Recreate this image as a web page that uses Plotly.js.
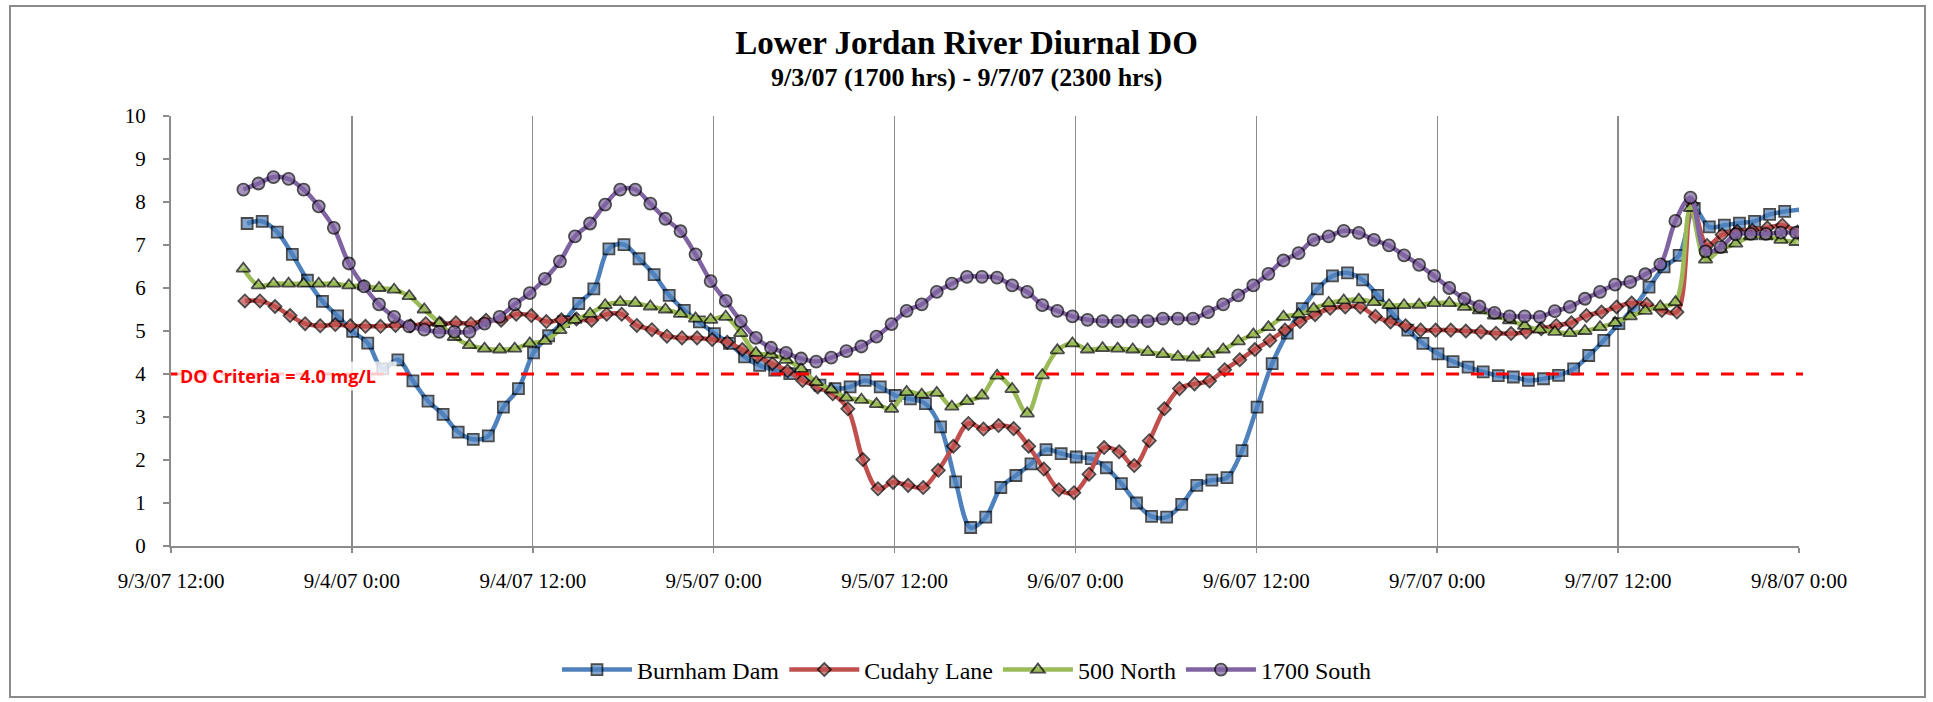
<!DOCTYPE html>
<html>
<head>
<meta charset="utf-8">
<script src="https://cdn.plot.ly/plotly-3.0.1.min.js"></script>
<style>
  html, body { margin: 0; padding: 0; background: #ffffff; }
  #chart { width: 1933px; height: 702px; }
</style>
</head>
<body>
<div id="chart"></div>
<script>
// ---------------- DATA (hourly readings) ----------------
const seriesNames = ["Burnham Dam", "Cudahy Lane", "500 North", "1700 South"];
const seriesStarts = ["2007-09-03 17:03", "2007-09-03 16:54", "2007-09-03 16:48", "2007-09-03 16:48"];

const burnhamDam = [
  7.50, 7.55, 7.30, 6.78, 6.18, 5.69, 5.35, 4.99, 4.72, 4.12,
  4.33, 3.84, 3.37, 3.06, 2.65, 2.48, 2.56, 3.23, 3.66, 4.49,
  4.89, 5.22, 5.64, 5.98, 6.91, 7.01, 6.68, 6.31, 5.83, 5.48,
  5.21, 4.94, 4.71, 4.40, 4.20, 4.09, 4.01, 3.97, 3.74, 3.66,
  3.70, 3.85, 3.70, 3.50, 3.42, 3.31, 2.77, 1.49, 0.43, 0.67,
  1.36, 1.64, 1.91, 2.24, 2.15, 2.07, 2.03, 1.82, 1.45, 1.00,
  0.69, 0.67, 0.97, 1.41, 1.53, 1.59, 2.22, 3.23, 4.24, 4.95,
  5.52, 5.98, 6.28, 6.35, 6.19, 5.83, 5.40, 5.02, 4.71, 4.47,
  4.29, 4.16, 4.05, 3.96, 3.93, 3.85, 3.89, 3.97, 4.12, 4.43,
  4.78, 5.17, 5.55, 6.02, 6.49, 6.76, 7.85, 7.42, 7.46, 7.51,
  7.55, 7.71, 7.78, 7.82
];
const cudahyLane = [
  5.70, 5.70, 5.57, 5.36, 5.17, 5.12, 5.15, 5.12, 5.11, 5.11,
  5.13, 5.12, 5.17, 5.16, 5.19, 5.17, 5.25, 5.25, 5.39, 5.36,
  5.22, 5.26, 5.28, 5.25, 5.39, 5.39, 5.13, 5.03, 4.88, 4.84,
  4.84, 4.80, 4.74, 4.57, 4.40, 4.24, 4.07, 3.85, 3.70, 3.54,
  3.19, 2.01, 1.33, 1.48, 1.41, 1.36, 1.76, 2.32, 2.85, 2.72,
  2.80, 2.73, 2.32, 1.79, 1.31, 1.24, 1.67, 2.29, 2.19, 1.87,
  2.45, 3.19, 3.66, 3.77, 3.84, 4.10, 4.33, 4.57, 4.78, 5.02,
  5.22, 5.38, 5.53, 5.56, 5.56, 5.34, 5.21, 5.12, 5.02, 5.02,
  5.02, 5.00, 4.98, 4.95, 4.94, 4.98, 5.05, 5.13, 5.19, 5.36,
  5.44, 5.56, 5.65, 5.62, 5.48, 5.44, 7.95, 6.99, 7.24, 7.32,
  7.34, 7.40, 7.46, 7.30
];
const north500 = [
  6.45, 6.06, 6.10, 6.10, 6.10, 6.10, 6.10, 6.06, 6.04, 6.00,
  5.96, 5.81, 5.50, 5.19, 4.86, 4.67, 4.59, 4.57, 4.59, 4.71,
  4.77, 5.02, 5.26, 5.40, 5.60, 5.67, 5.65, 5.57, 5.50, 5.40,
  5.29, 5.26, 5.33, 4.95, 4.49, 4.45, 4.33, 4.12, 3.81, 3.64,
  3.45, 3.40, 3.30, 3.19, 3.58, 3.52, 3.56, 3.24, 3.37, 3.50,
  3.96, 3.65, 3.08, 3.97, 4.55, 4.71, 4.57, 4.60, 4.59, 4.57,
  4.51, 4.46, 4.40, 4.38, 4.46, 4.57, 4.76, 4.92, 5.09, 5.33,
  5.39, 5.52, 5.65, 5.71, 5.73, 5.67, 5.60, 5.60, 5.61, 5.65,
  5.65, 5.56, 5.48, 5.36, 5.25, 5.12, 5.03, 4.98, 4.95, 5.00,
  5.09, 5.19, 5.34, 5.47, 5.57, 5.67, 7.86, 6.66, 6.90, 7.03,
  7.20, 7.20, 7.12, 7.07
];
const south1700 = [
  8.29, 8.43, 8.58, 8.54, 8.29, 7.90, 7.40, 6.57, 6.04, 5.62,
  5.33, 5.11, 5.03, 4.98, 4.98, 4.98, 5.17, 5.33, 5.62, 5.88,
  6.21, 6.62, 7.20, 7.50, 7.94, 8.29, 8.29, 7.96, 7.61, 7.32,
  6.78, 6.16, 5.70, 5.23, 4.84, 4.61, 4.49, 4.36, 4.29, 4.38,
  4.53, 4.64, 4.87, 5.16, 5.47, 5.62, 5.91, 6.10, 6.26, 6.26,
  6.24, 6.06, 5.91, 5.60, 5.47, 5.34, 5.26, 5.23, 5.23, 5.23,
  5.23, 5.29, 5.29, 5.29, 5.44, 5.62, 5.83, 6.06, 6.33, 6.64,
  6.81, 7.12, 7.20, 7.33, 7.28, 7.12, 6.99, 6.76, 6.54, 6.28,
  6.00, 5.75, 5.57, 5.42, 5.34, 5.34, 5.33, 5.46, 5.56, 5.75,
  5.91, 6.08, 6.14, 6.32, 6.55, 7.56, 8.10, 6.85, 6.95, 7.25,
  7.26, 7.26, 7.29, 7.29
];
const seriesValues = [burnhamDam, cudahyLane, north500, south1700];

const criterionValue = 4.0;
const criterionLabel = "DO Criteria = 4.0 mg/L";
const titleText = "Lower Jordan River Diurnal DO";
const subtitleText = "9/3/07 (1700 hrs) - 9/7/07 (2300 hrs)";
const xRange = ["2007-09-03 12:00", "2007-09-08 00:00"];
const yRange = [0, 10];

// ---------------- STYLE ----------------
const colors = ["#4F81BD", "#C0504D", "#9BBB59", "#8064A2"];
const symbols = ["square", "diamond", "triangle-up", "circle"];
const msizes = [11, 10, 12, 12];
const serif = "'Liberation Serif', 'Times New Roman', serif";
const gridGray = "#8C8C8C";

// sampling: one reading per hour from each series' start time
function hourly(start, n) {
  const [d, t] = start.split(" ");
  const [Y, M, D] = d.split("-").map(Number);
  const [h, m] = t.split(":").map(Number);
  const t0 = Date.UTC(Y, M - 1, D, h, m);
  const out = [];
  for (let i = 0; i < n; i++) {
    out.push(new Date(t0 + i * 3600000).toISOString().slice(0, 16).replace("T", " "));
  }
  return out;
}

const traces = seriesNames.map((name, k) => {
  const vals = seriesValues[k];
  const sizes = vals.map((v, i) => (k === 0 && i === vals.length - 1) ? 0 : msizes[k]);
  return {
    type: "scatter",
    mode: "lines+markers",
    name: name,
    x: hourly(seriesStarts[k], vals.length),
    y: vals,
    line: { color: colors[k], width: 4.5, shape: "spline", smoothing: 1 },
    marker: { symbol: symbols[k], size: sizes, color: colors[k],
              line: { color: "#000000", width: 1.8 } }
  };
});

// ---------------- LAYOUT (pixel geometry) ----------------
const W = 1933, H = 702;
const L = 171, R = 134, T = 116, B = 156;
const pw = W - L - R, ph = H - T - B;
const px = (x) => (x - L) / pw;          // page px -> paper x
const py = (y) => (H - B - y) / ph;      // page px -> paper y

const layout = {
  width: W, height: H,
  margin: { l: L, r: R, t: T, b: B },
  paper_bgcolor: "#ffffff",
  plot_bgcolor: "#ffffff",
  showlegend: true,
  title: {
    text: "<b>" + titleText + "</b>",
    font: { family: serif, size: 33, color: "#000000" },
    x: 0.5, xref: "container", xanchor: "center",
    y: 1 - 42 / H, yref: "container", yanchor: "middle"
  },
  xaxis: {
    type: "date",
    range: xRange,
    tick0: xRange[0],
    dtick: 12 * 3600 * 1000,
    tickformat: "%-m/%-d/%y %-H:%M",
    showgrid: true, gridcolor: gridGray, gridwidth: 1.3,
    showline: true, linecolor: gridGray, linewidth: 2,
    ticks: "outside", ticklen: 5, tickcolor: gridGray, tickwidth: 1.5,
    ticklabelstandoff: 10,
    tickfont: { family: serif, size: 21, color: "#000000" },
    zeroline: false, fixedrange: true
  },
  yaxis: {
    range: yRange, dtick: 1, tick0: 0,
    showgrid: false,
    showline: true, linecolor: gridGray, linewidth: 2,
    ticks: "outside", ticklen: 6, tickcolor: gridGray, tickwidth: 1.5,
    ticklabelstandoff: 13,
    tickfont: { family: serif, size: 21, color: "#000000" },
    zeroline: false, fixedrange: true
  },
  legend: {
    orientation: "h",
    xref: "container", x: 0.5, xanchor: "center",
    yref: "container", y: 1 - 670 / H, yanchor: "middle",
    font: { family: serif, size: 24, color: "#000000" },
    itemwidth: 70,
    bgcolor: "rgba(0,0,0,0)"
  },
  shapes: [
    { type: "rect", xref: "paper", yref: "paper",
      x0: px(10), x1: px(1925), y0: py(697), y1: py(6),
      line: { color: "#8A8A8A", width: 2 }, fillcolor: "rgba(0,0,0,0)", layer: "below" },
    { type: "line", xref: "paper", yref: "y",
      x0: 0, x1: px(1803), y0: criterionValue, y1: criterionValue,
      line: { color: "#FF0000", width: 3, dash: "13px,12px" }, layer: "above" }
  ],
  annotations: [
    { xref: "paper", yref: "paper", x: px(966.5), y: py(77),
      xanchor: "center", yanchor: "middle", showarrow: false,
      text: "<b>" + subtitleText + "</b>",
      font: { family: serif, size: 26, color: "#000000" } },
    { xref: "paper", yref: "y", x: px(177), y: criterionValue,
      xanchor: "left", yanchor: "middle", yshift: -2, showarrow: false,
      text: "<b>" + criterionLabel + "</b>", align: "left", width: 214,
      bgcolor: "rgba(255,255,255,0.8)", borderpad: 2,
      font: { family: "'Open Sans', 'Noto Sans', sans-serif", size: 18, color: "#FF0000" } }
  ]
};

Plotly.newPlot("chart", traces, layout, { staticPlot: true, displayModeBar: false });
</script>
</body>
</html>
